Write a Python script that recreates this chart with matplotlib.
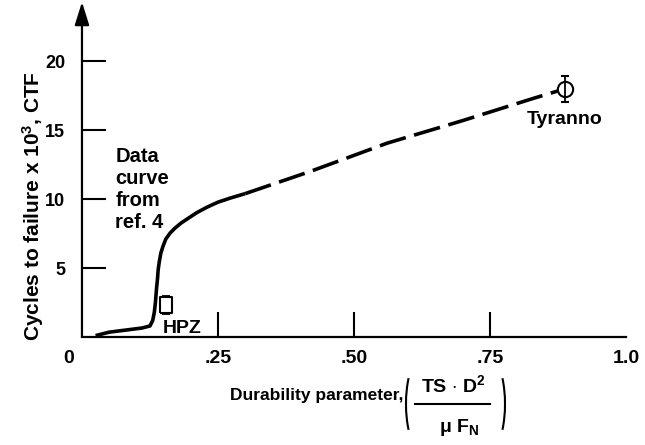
import numpy as np
import matplotlib.pyplot as plt
from matplotlib.patches import Arc
from matplotlib.lines import Line2D
from matplotlib.transforms import ScaledTranslation

# Data
solid_x = [0.025, 0.05, 0.08, 0.11, 0.125, 0.130, 0.133, 0.135, 0.137, 0.139, 0.140,
           0.142, 0.145, 0.149, 0.154, 0.162, 0.171, 0.182, 0.193, 0.211, 0.230,
           0.250, 0.272, 0.300]
solid_y = [0.1, 0.35, 0.5, 0.65, 0.8, 1.2, 1.8, 2.5, 3.5, 4.3, 4.86,
           5.43, 6.09, 6.59, 7.10, 7.54, 7.90, 8.26, 8.55, 9.02, 9.42,
           9.78, 10.07, 10.40]
dashed_x = [0.300, 0.419, 0.561, 0.700, 0.829, 0.875]
dashed_y = [10.40, 12.0, 14.06, 15.7, 17.3, 17.85]

fibers = ["HPZ", "Tyranno"]
fiber_x = [0.154, 0.888]
fiber_y = [2.3, 18.0]
fiber_err = [0.65, 0.95]

yticks = [5, 10, 15, 20]
xticks = [0, 0.25, 0.50, 0.75, 1.0]
xtick_labels = ["0", ".25", ".50", ".75", "1.0"]

plt.rcParams["font.family"] = ["Liberation Sans", "DejaVu Sans"]
plt.rcParams["font.weight"] = "bold"
plt.rcParams["mathtext.fontset"] = "custom"
plt.rcParams["mathtext.rm"] = "Liberation Sans:bold"
plt.rcParams["mathtext.bf"] = "Liberation Sans:bold"
plt.rcParams["mathtext.it"] = "Liberation Sans:bold"

fig = plt.figure(figsize=(6.45, 4.45), dpi=100)
ax = fig.add_axes([0.1271, 0.2427, 0.8434, 0.7528])
ax.set_xlim(0, 1.0)
ax.set_ylim(0, 24.3)

for s in ["top", "right", "left"]:
    ax.spines[s].set_visible(False)
ax.spines["bottom"].set_linewidth(1.6)

# y axis with arrow head
ax.annotate("", xy=(0, 24.3), xytext=(0, 0),
            arrowprops=dict(arrowstyle="-|>,head_length=0.7,head_width=0.22",
                            lw=1.6, color="k", mutation_scale=20,
                            shrinkA=0, shrinkB=0),
            annotation_clip=False)

# curve
ax.plot(solid_x, solid_y, color="k", lw=2.6, solid_capstyle="butt")
ax.plot(dashed_x, dashed_y, color="k", lw=2.6, dashes=(7.5, 2.4))

# data points
hpz_marker = [(-0.7, -1), (0.7, -1), (0.7, 1), (-0.7, 1), (-0.7, -1)]
ax.errorbar(fiber_x[0], fiber_y[0], yerr=fiber_err[0], fmt="none", ecolor="k",
            elinewidth=1.3, capsize=3, capthick=1.3)
ax.plot(fiber_x[0], fiber_y[0], marker=hpz_marker, markersize=12, mfc="white",
        mec="k", mew=1.5, ls="none")
ax.errorbar(fiber_x[1], fiber_y[1], yerr=fiber_err[1], fmt="o", color="k",
            mfc="none", mec="k", mew=1.5, ms=11, elinewidth=1.3, capsize=3, capthick=1.3)

ax.text(0.149, 0.6, fibers[0], fontsize=14, fontweight="bold", va="center", ha="left")
ax.text(fiber_x[1], 15.8, fibers[1], fontsize=14, fontweight="bold", va="center", ha="center")
ax.text(0.061, 13.8, "Data\ncurve\nfrom\nref. 4", fontsize=14.5, fontweight="bold",
        va="top", ha="left", linespacing=1.2)

# ticks
ax.set_yticks(yticks)
ax.set_yticklabels([str(v) for v in yticks])
ax.set_xticks(xticks)
ax.set_xticklabels(xtick_labels)
ax.tick_params(axis="y", direction="in", length=17, width=1.5, pad=12, labelsize=13)
ax.tick_params(axis="x", direction="in", length=18, width=1.5, pad=9.5, labelsize=14)
xt = ax.xaxis.get_major_ticks()
xt[0].tick1line.set_visible(False)
xt[-1].tick1line.set_visible(False)
lab0 = ax.get_xticklabels()[0]
lab0.set_transform(lab0.get_transform() + ScaledTranslation(-0.13, 0, fig.dpi_scale_trans))

fig.text(33 / 645, 1 - 206 / 445, r"Cycles to failure x 10$^3$, CTF", rotation=90,
         fontsize=15, fontweight="bold", ha="center", va="center")

# x axis title with the durability parameter fraction
fig.text(403 / 645, 1 - 400 / 445, "Durability parameter,", fontsize=12.5,
         fontweight="bold", ha="right", va="baseline")
fig.text(453 / 645, 1 - 392 / 445, r"TS $\cdot$ D$^2$", fontsize=14,
         fontweight="bold", ha="center", va="baseline")
fig.text(459 / 645, 1 - 432 / 445, r"$\mu$ F$_N$", fontsize=14,
         fontweight="bold", ha="center", va="baseline")
fig.add_artist(Line2D([415 / 645, 490 / 645], [1 - 404 / 445, 1 - 404 / 445],
                      color="k", lw=1.5, transform=fig.transFigure))
fig.add_artist(Arc((4.18, 0.41), 0.24, 0.83, theta1=110, theta2=250, lw=1.5,
                   color="k", transform=fig.dpi_scale_trans))
fig.add_artist(Arc((4.93, 0.41), 0.24, 0.83, theta1=-70, theta2=70, lw=1.5,
                   color="k", transform=fig.dpi_scale_trans))

fig.savefig("out.png", dpi=100)
